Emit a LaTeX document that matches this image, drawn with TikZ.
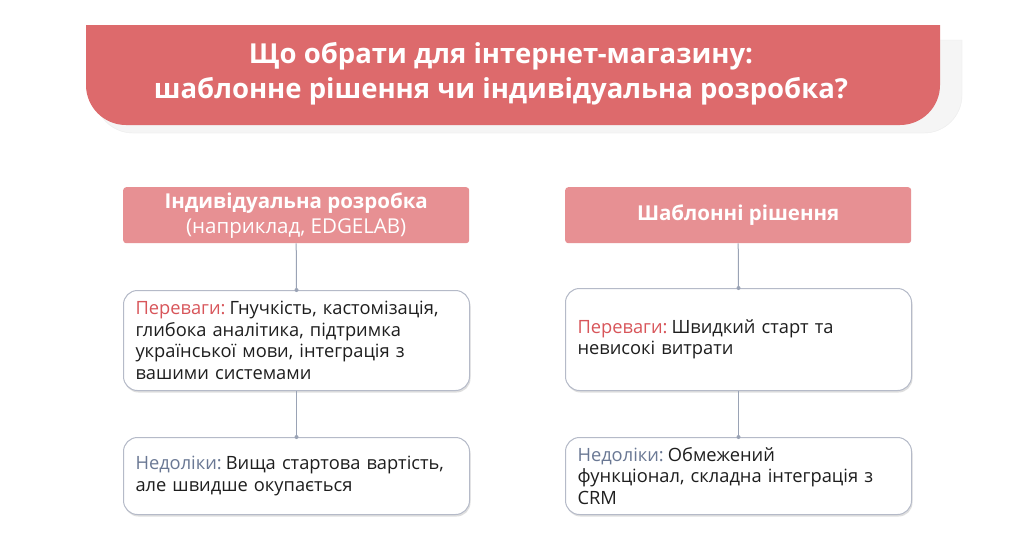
\documentclass[tikz,border=0pt]{standalone}
\usepackage{fontspec}
\setmainfont{Open Sans}
\usetikzlibrary{shadows}
\definecolor{titlered}{HTML}{DD6A6C}
\definecolor{headred}{HTML}{E79093}
\definecolor{pros}{HTML}{D8555A}
\definecolor{cons}{HTML}{6A7894}
\definecolor{linegray}{HTML}{9AA3B5}
\definecolor{boxborder}{HTML}{B5BAC8}
\definecolor{txt}{HTML}{1E1E1E}
\newcommand{\lbl}[2]{\textcolor{#1}{#2}\hspace{0.22em}}
\tikzset{
  x=1pt,y=-1pt,
  head/.style={fill=headred,draw=none,rounded corners=3pt,minimum width=346pt,minimum height=56pt,text=white,align=center,font=\fontsize{20.5}{25}\selectfont,anchor=north west},
  card/.style={fill=white,draw=boxborder,line width=1pt,rounded corners=14pt,minimum width=346pt,anchor=north west,text=txt,align=left,font=\fontsize{18.3}{21.5}\selectfont,text width=322pt,inner xsep=12pt,
    drop shadow={shadow xshift=1pt,shadow yshift=-2pt,fill=black!25,opacity=0.5}},
  conn/.style={draw=linegray,line width=1pt},
  dot/.style={circle,fill=linegray,inner sep=0pt,minimum size=4pt}
}
\begin{document}
\begin{tikzpicture}
\useasboundingbox (0,0) rectangle (1024,539);
\fill[white] (0,0) rectangle (1024,539);
% title shadow
\fill[gray!8,draw=gray!15] (95,40) -- (962,40) -- (962,95) arc[start angle=0,end angle=90,radius=38] -- (133,133) arc[start angle=90,end angle=180,radius=38] -- cycle;
\fill[titlered] (86,25) -- (940,25) -- (940,85) arc[start angle=0,end angle=90,radius=40] -- (126,125) arc[start angle=90,end angle=180,radius=40] -- cycle;
\node[text=white,align=center,font=\fontsize{27.5}{35}\selectfont\bfseries] (title) at (501,74) {Що обрати для інтернет-магазину:\\шаблонне рішення чи індивідуальна розробка?};
% headers
\node[head] (lh) at (123,187) {\textbf{Індивідуальна розробка}\\(наприклад, EDGELAB)};
\node[head] (rh) at (565,187) {\textbf{Шаблонні рішення}};
% cards
\node[card,minimum height=100pt] (l1) at (123,290) {\lbl{pros}{Переваги:}Гнучкість, кастомізація,\\ глибока аналітика, підтримка\\ української мови, інтеграція з\\ вашими системами};
\node[card,minimum height=77pt] (l2) at (123,437) {\lbl{cons}{Недоліки:}Вища стартова вартість,\\ але швидше окупається};
\node[card,minimum height=102pt] (r1) at (565,288) {\lbl{pros}{Переваги:}Швидкий старт та\\ невисокі витрати};
\node[card,minimum height=77pt] (r2) at (565,437) {\lbl{cons}{Недоліки:}Обмежений\\ функціонал, складна інтеграція з\\ CRM};
% connectors
\draw[conn] (lh.south) -- (l1.north) node[dot]{};
\draw[conn] (l1.south) -- (l2.north) node[dot]{};
\draw[conn] (rh.south) -- (r1.north) node[dot]{};
\draw[conn] (r1.south) -- (r2.north) node[dot]{};
\end{tikzpicture}
\end{document}
